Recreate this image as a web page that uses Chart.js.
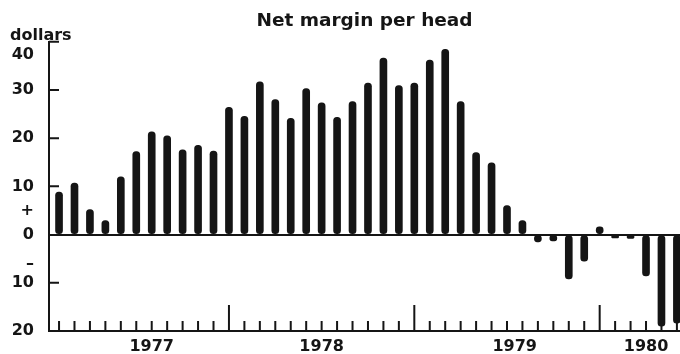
<!DOCTYPE html>
<html>
<head>
<meta charset="utf-8">
<script src="https://cdn.jsdelivr.net/npm/chart.js@4.4.1/dist/chart.umd.min.js"></script>
<style>
  html, body { margin: 0; padding: 0; background: #fff; }
  #wrap { width: 680px; height: 354px; }
</style>
</head>
<body>
<div id="wrap"><canvas id="grafico"></canvas></div>
<script>
// monthly net margin, dollars per head
const years = ['1977', '1978', '1979', '1980'];
const margin1977 = [8.8, 10.7, 5.2, 2.9, 12.0, 17.2, 21.3, 20.5, 17.6, 18.5, 17.3, 26.4];
const margin1978 = [24.5, 31.7, 28.0, 24.1, 30.3, 27.3, 24.3, 27.6, 31.4, 36.6, 30.9, 31.4];
const margin1979 = [36.2, 38.4, 27.6, 17.0, 14.9, 6.0, 2.9, -1.5, -1.3, -9.2, -5.5, 1.6];
const margin1980 = [-0.7, -0.8, -8.6, -19.0, -18.4];

// where the year labels sit on the month axis
const yearTicks = [7, 18, 30.5, 39];

// the "40" label is printed a little below the top of the axis
const yTicks = [37.3, 30, 20, 10, 5, 0, -6, -10, -20];
const yLabels = ['40', '30', '20', '10', '+', '0', '\u2013', '10', '20'];
const yMarks = [40, 30, 20, 10, -10];

const margins = margin1977.concat(margin1978, margin1979, margin1980);
const points = margins.map((v, i) => ({ x: i + 1, y: v }));

const ink = '#151515';
const fonte = '"DejaVu Sans", Verdana, sans-serif';

// small tick marks on the month axis and on the dollar axis
const tickMarks = {
    id: 'tickMarks',
    beforeDatasetsDraw(chart) {
        const ctx = chart.ctx;
        const x = chart.scales.x;
        const y = chart.scales.y;
        ctx.save();
        ctx.strokeStyle = ink;
        ctx.lineWidth = 2;
        ctx.beginPath();
        points.forEach(p => {
            const px = x.getPixelForValue(p.x);
            const len = (p.x % 12 === 0) ? 26 : 10;
            ctx.moveTo(px, y.bottom);
            ctx.lineTo(px, y.bottom - len);
        });
        yMarks.forEach(v => {
            const py = y.getPixelForValue(v);
            ctx.moveTo(x.left, py);
            ctx.lineTo(x.left + 10, py);
        });
        ctx.stroke();
        ctx.restore();
    }
};

new Chart(document.getElementById('grafico'), {
    type: 'bar',
    data: {
        datasets: [{
            data: points,
            backgroundColor: ink,
            barThickness: 7,
            borderRadius: 3.5,
            borderSkipped: false
        }]
    },
    options: {
        responsive: true,
        maintainAspectRatio: false,
        animation: false,
        layout: { padding: { left: 10, right: 0, top: 0, bottom: 0 } },
        plugins: {
            legend: { display: false },
            tooltip: { enabled: false },
            title: {
                display: true,
                text: 'Net margin per head',
                fullSize: false,
                color: ink,
                font: { family: fonte, size: 18.5, weight: 'bold', lineHeight: 1 },
                padding: { top: 12, bottom: 0 }
            },
            subtitle: {
                display: true,
                text: 'dollars',
                align: 'start',
                color: ink,
                font: { family: fonte, size: 16, weight: 'bold', lineHeight: 0.7 },
                padding: 0
            }
        },
        scales: {
            x: {
                type: 'linear',
                min: 0.35,
                max: 41.2,
                offset: false,
                afterBuildTicks: s => { s.ticks = yearTicks.map(v => ({ value: v })); },
                afterFit: s => { s.height = 23; },
                ticks: {
                    callback: (v, i) => years[i],
                    autoSkip: false,
                    maxRotation: 0,
                    padding: 8,
                    color: ink,
                    font: { family: fonte, size: 16, weight: 'bold', lineHeight: 1 }
                },
                grid: { display: false, drawTicks: false, offset: false },
                border: { display: true, color: ink, width: 2 }
            },
            y: {
                min: -20,
                max: 40,
                afterBuildTicks: s => { s.ticks = yTicks.map(v => ({ value: v })); },
                afterFit: s => { s.width = 39; },
                ticks: {
                    callback: (v, i) => yLabels[i],
                    autoSkip: false,
                    padding: 15,
                    color: ink,
                    font: { family: fonte, size: 16, weight: 'bold', lineHeight: 0.4 }
                },
                grid: {
                    drawTicks: false,
                    lineWidth: 2,
                    color: c => (c.tick && c.tick.value === 0) ? ink : 'rgba(0,0,0,0)'
                },
                border: { display: true, color: ink, width: 2 }
            }
        }
    },
    plugins: [tickMarks]
});
</script>
</body>
</html>
